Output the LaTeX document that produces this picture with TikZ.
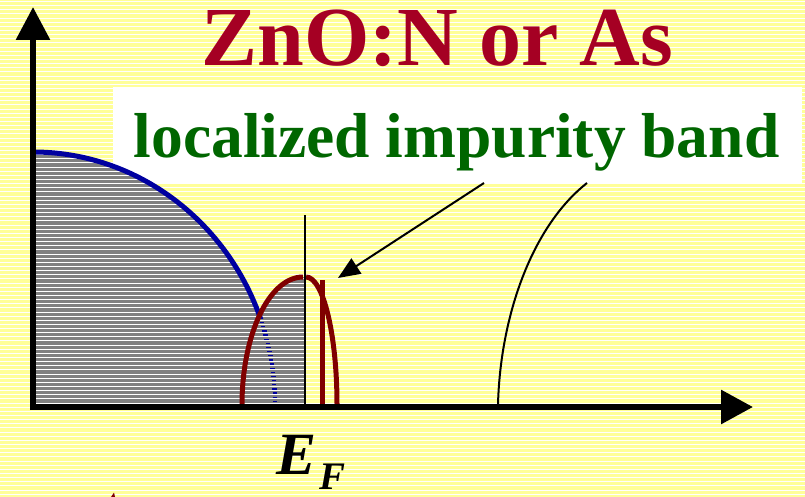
\documentclass[tikz,border=0pt]{standalone}
\usepackage{fontspec}
\setmainfont{Liberation Serif}
\usetikzlibrary{arrows.meta}
\definecolor{bgyellow}{RGB}{255,255,153}
\definecolor{fillgray}{RGB}{128,128,128}
\definecolor{titlered}{RGB}{165,0,35}
\definecolor{labgreen}{RGB}{0,102,0}
\definecolor{bandblue}{RGB}{0,0,160}
\definecolor{banddred}{RGB}{128,0,0}
\begin{document}
\begin{tikzpicture}[x=1pt,y=-1pt,
  txt/.style={inner sep=0pt, anchor=base},
  redband/.style={draw=banddred, line width=5pt},
  axisline/.style={line width=6pt},
  thinblack/.style={line width=2pt}]
\useasboundingbox (0,0) rectangle (805,497);
\fill[bgyellow] (0,0) rectangle (805,497);
% white label box
\node[fill=white, minimum width=689pt, minimum height=96pt, inner sep=0pt] (box) at (457.5,135) {};
% gray filled density of states
\fill[fillgray] (33,405) -- (33,152) .. controls (166.6,152) and (275,265.3) .. (275,405) -- cycle;
\fill[fillgray] (242,405) .. controls (242,334.3) and (269.3,277) .. (303,277) -- (305,277) -- (305,405) -- cycle;
% stripes
\foreach \y in {1.5,5.64,...,497} \draw[white, line width=1pt] (0,\y) -- (805,\y);
% blue band (solid part)
\begin{scope}
\clip (0,0) rectangle (805,318);
\draw[bandblue, line width=5pt] (33,152) .. controls (166.6,152) and (275,265.3) .. (275,405);
\end{scope}
% blue band (hidden part)
\foreach \y in {322.7,326.84,...,405} {
  \pgfmathsetmacro\xx{33+242*sqrt(1-((405-\y)/253)^2)}
  \draw[bandblue, line width=1.3pt] (\xx-2.2,\y) -- (\xx+2.2,\y);
}
% impurity band
\draw[redband] (242,405) .. controls (242,334.3) and (269.3,277) .. (303,277);
\draw[redband] (306,277) .. controls (323.1,277) and (337,334.3) .. (337,405);
\draw[redband] (322,280) -- (322,405);
% Fermi level line
\coordinate (ef0) at (305,405);
\coordinate (ef1) at (305,215);
\draw[line width=1.3pt] (ef0) -- (ef1);
% axes
\coordinate (o) at (33,407);
\coordinate (ytip) at (33,7);
\coordinate (xtip) at (753,407);
\draw[axisline, -{Triangle[length=33pt,width=33pt]}] (33,410) -- (ytip);
\draw[axisline, -{Triangle[length=32pt,width=33pt]}] (30,407) -- (xtip);
% annotation arrow
\coordinate (a0) at (484,183);
\coordinate (a1) at (338,278);
\draw[thinblack, -{Triangle[length=22pt,width=18pt]}] (a0) -- (a1);
% second curve
\coordinate (c0) at (587,183);
\coordinate (c1) at (498,405);
\draw[thinblack] (c0) .. controls (530,228) and (500,320) .. (c1);
% texts
\node[txt, text=titlered, font=\bfseries\fontsize{84}{84}\selectfont] (title) at (437.5,66) {ZnO:N or As};
\node[txt, text=labgreen, font=\bfseries\fontsize{63.5}{63.5}\selectfont] (label) at (456.5,158) {localized impurity band};
\node[inner sep=0pt, anchor=base west, font=\bfseries\itshape\fontsize{60}{60}\selectfont] (E) at (276,474) {E};
\node[inner sep=0pt, anchor=base west, font=\bfseries\itshape\fontsize{39}{39}\selectfont] (F) at (319,489) {F};
% fragment at bottom edge
\fill[banddred] (111,497) -- (114,492.5) -- (115,497) -- cycle;
\end{tikzpicture}
\end{document}
